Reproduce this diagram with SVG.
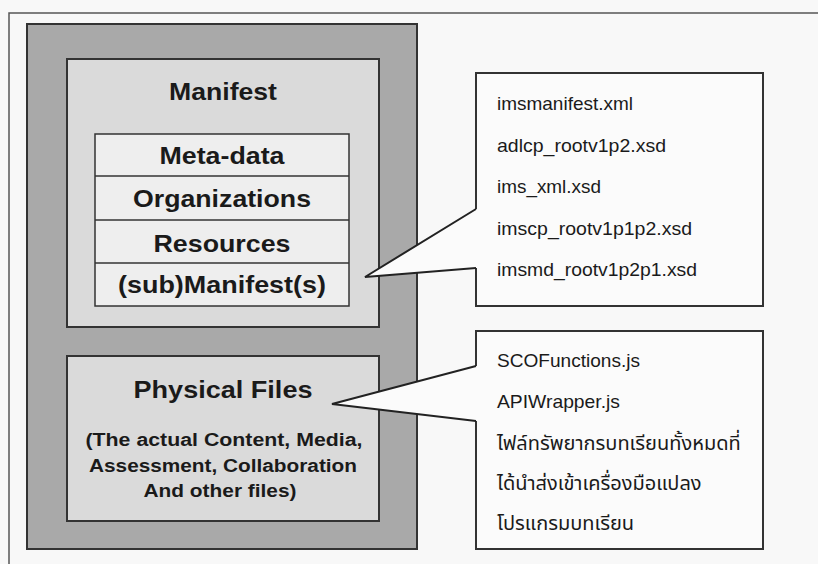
<svg xmlns="http://www.w3.org/2000/svg" width="818" height="564" viewBox="0 0 818 564">
<style>
.bold{font-family:"Liberation Sans",Arial,sans-serif;font-weight:bold;fill:#1a1a1a;text-anchor:middle}
.reg{font-family:"Liberation Sans",Arial,"Noto Sans Thai","Noto Sans",sans-serif;font-size:19px;fill:#1a1a1a}
.thai{font-size:20px}
.box{stroke:#333;stroke-width:2}
.conn{fill:none;stroke:#222;stroke-width:2;stroke-linejoin:miter}
</style>
<rect x="0" y="0" width="818" height="564" fill="#f8f8f8"/>
<g id="frame">
<path d="M9,564 V13 H818" fill="none" stroke="#555" stroke-width="1.5"/>
</g>
<g id="package">
<rect x="27" y="24" width="390" height="525" fill="#a9a9a9" class="box"/>
</g>
<g id="manifest">
<rect x="67" y="59" width="312" height="268" fill="#dadada" class="box"/>
<text x="223" y="100" class="bold" font-size="24" textLength="108" lengthAdjust="spacingAndGlyphs">Manifest</text>
<rect x="95" y="134" width="254" height="172" fill="#eeeeee" stroke="#333" stroke-width="1.5"/>
<line x1="95" y1="176" x2="349" y2="176" stroke="#333" stroke-width="1.5"/>
<line x1="95" y1="220" x2="349" y2="220" stroke="#333" stroke-width="1.5"/>
<line x1="95" y1="263" x2="349" y2="263" stroke="#333" stroke-width="1.5"/>
<text x="222" y="164" class="bold" font-size="24" textLength="125" lengthAdjust="spacingAndGlyphs">Meta-data</text>
<text x="222" y="207" class="bold" font-size="24" textLength="178" lengthAdjust="spacingAndGlyphs">Organizations</text>
<text x="222" y="252" class="bold" font-size="24" textLength="137" lengthAdjust="spacingAndGlyphs">Resources</text>
<text x="222" y="293" class="bold" font-size="24" textLength="208" lengthAdjust="spacingAndGlyphs">(sub)Manifest(s)</text>
</g>
<g id="physical">
<rect x="67" y="356" width="312" height="165" fill="#dadada" class="box"/>
<text x="223" y="398" class="bold" font-size="24" textLength="179" lengthAdjust="spacingAndGlyphs">Physical Files</text>
<text x="224" y="446" class="bold" font-size="18" textLength="277" lengthAdjust="spacingAndGlyphs">(The actual Content, Media,</text>
<text x="223" y="472" class="bold" font-size="18" textLength="268" lengthAdjust="spacingAndGlyphs">Assessment, Collaboration</text>
<text x="220" y="497" class="bold" font-size="18" textLength="153" lengthAdjust="spacingAndGlyphs">And other files)</text>
</g>
<g id="manifest-files">
<rect x="476" y="73" width="287" height="233" fill="#fbfbfb" class="box"/>
<text x="497" y="110" class="reg" textLength="136" lengthAdjust="spacingAndGlyphs">imsmanifest.xml</text>
<text x="497" y="151.5" class="reg" textLength="169" lengthAdjust="spacingAndGlyphs">adlcp_rootv1p2.xsd</text>
<text x="497" y="193" class="reg" textLength="104" lengthAdjust="spacingAndGlyphs">ims_xml.xsd</text>
<text x="497" y="234.5" class="reg" textLength="195" lengthAdjust="spacingAndGlyphs">imscp_rootv1p1p2.xsd</text>
<text x="497" y="276" class="reg" textLength="200" lengthAdjust="spacingAndGlyphs">imsmd_rootv1p2p1.xsd</text>
</g>
<g id="physical-files">
<rect x="476" y="331" width="287" height="218" fill="#fbfbfb" class="box"/>
<text x="497" y="367" class="reg" textLength="143" lengthAdjust="spacingAndGlyphs">SCOFunctions.js</text>
<text x="497" y="408" class="reg" textLength="123" lengthAdjust="spacingAndGlyphs">APIWrapper.js</text>
<text x="497" y="450" class="reg thai">ไฟล์ทรัพยากรบทเรียนทั้งหมดที่</text>
<text x="497" y="490" class="reg thai">ได้นำส่งเข้าเครื่องมือแปลง</text>
<text x="497" y="530" class="reg thai">โปรแกรมบทเรียน</text>
</g>
<g id="connectors">
<polygon points="476,209 365,277 476,268 478,268 478,209" fill="#fbfbfb"/>
<polyline points="476,209 365,277 476,268" class="conn"/>
<polygon points="476,366 332,404 476,421 478,421 478,366" fill="#fbfbfb"/>
<polyline points="476,366 332,404 476,421" class="conn"/>
</g>
</svg>
